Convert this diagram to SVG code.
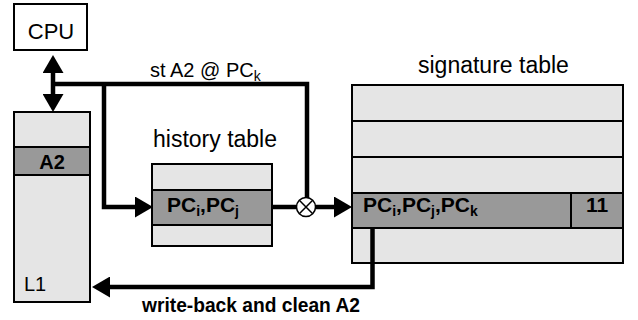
<svg xmlns="http://www.w3.org/2000/svg" width="638" height="320" viewBox="0 0 638 320">
  <style>
    .box { stroke: #000; stroke-width: 2; }
    .light { fill: #e5e5e5; }
    .dark { fill: #999999; }
    .wire { fill: none; stroke: #000; stroke-width: 4.5; stroke-linejoin: miter; stroke-linecap: butt; }
    .t { font-family: "Liberation Sans", Arial, sans-serif; fill: #000; }
    .t tspan { fill: #000; }
    .b { font-weight: bold; }
  </style>
  <defs>
    <marker id="head" viewBox="0 0 18 21" refX="5" refY="10.5" markerWidth="18" markerHeight="21" markerUnits="userSpaceOnUse" orient="auto-start-reverse">
      <path d="M0,0 L18,10.5 L0,21 Z" fill="#000"/>
    </marker>
  </defs>

  <rect width="638" height="320" fill="#fff"/>

  <!-- CPU -->
  <g id="cpu">
    <rect class="box" x="14" y="4" width="73" height="46" fill="#fff"/>
    <text class="t" x="51" y="39" font-size="22" text-anchor="middle">CPU</text>
  </g>

  <!-- L1 cache -->
  <g id="l1">
    <rect class="box light" x="14" y="112" width="76" height="190"/>
    <rect class="box dark" x="14" y="147" width="76" height="28"/>
    <text class="t b" x="52" y="169" font-size="20" text-anchor="middle">A2</text>
    <text class="t" x="24" y="291" font-size="20">L1</text>
  </g>

  <!-- history table -->
  <g id="history-table">
    <text class="t" x="153" y="147" font-size="23">history table</text>
    <rect class="box light" x="152" y="164" width="120" height="82"/>
    <rect class="box dark" x="152" y="190" width="120" height="35"/>
    <text class="t b" x="167" y="212" font-size="21">PC<tspan font-size="14" dy="4">i</tspan><tspan dy="-4">,PC</tspan><tspan font-size="14" dy="4">j</tspan></text>
  </g>

  <!-- signature table -->
  <g id="signature-table">
    <text class="t" x="418" y="73" font-size="23">signature table</text>
    <rect class="box light" x="352" y="85" width="271" height="178"/>
    <line class="box" x1="352" y1="121" x2="623" y2="121"/>
    <line class="box" x1="352" y1="157" x2="623" y2="157"/>
    <rect class="box dark" x="352" y="193" width="271" height="35"/>
    <line class="box" x1="571" y1="193" x2="571" y2="228"/>
    <text class="t b" x="363" y="212" font-size="21">PC<tspan font-size="14" dy="4">i</tspan><tspan dy="-4">,PC</tspan><tspan font-size="14" dy="4">j</tspan><tspan dy="-4">,PC</tspan><tspan font-size="14" dy="4">k</tspan></text>
    <text class="t b" x="597" y="212" font-size="21" text-anchor="middle">11</text>
  </g>

  <!-- connectors -->
  <g id="connectors">
    <path class="wire" d="M53,68 V99" marker-start="url(#head)" marker-end="url(#head)"/>
    <path class="wire" d="M51,84 H307 V198"/>
    <path class="wire" d="M104,84 V207 H140" marker-end="url(#head)"/>
    <path class="wire" d="M272,207 H297"/>
    <path class="wire" d="M315,207 H339" marker-end="url(#head)"/>
    <path class="wire" d="M372.5,228 V287 H105" marker-end="url(#head)"/>
    <text class="t" x="150" y="77" font-size="20">st A2 @ PC<tspan font-size="14" dy="4">k</tspan></text>
    <text class="t b" x="142" y="312" font-size="21" textLength="218" lengthAdjust="spacingAndGlyphs">write-back and clean A2</text>
  </g>

  <!-- combine operator -->
  <g id="combine">
    <circle cx="306" cy="207" r="9.5" fill="#fff" stroke="#000" stroke-width="1.5"/>
    <path d="M299.3,200.3 L312.7,213.7 M312.7,200.3 L299.3,213.7" stroke="#000" stroke-width="1.5"/>
  </g>
</svg>
